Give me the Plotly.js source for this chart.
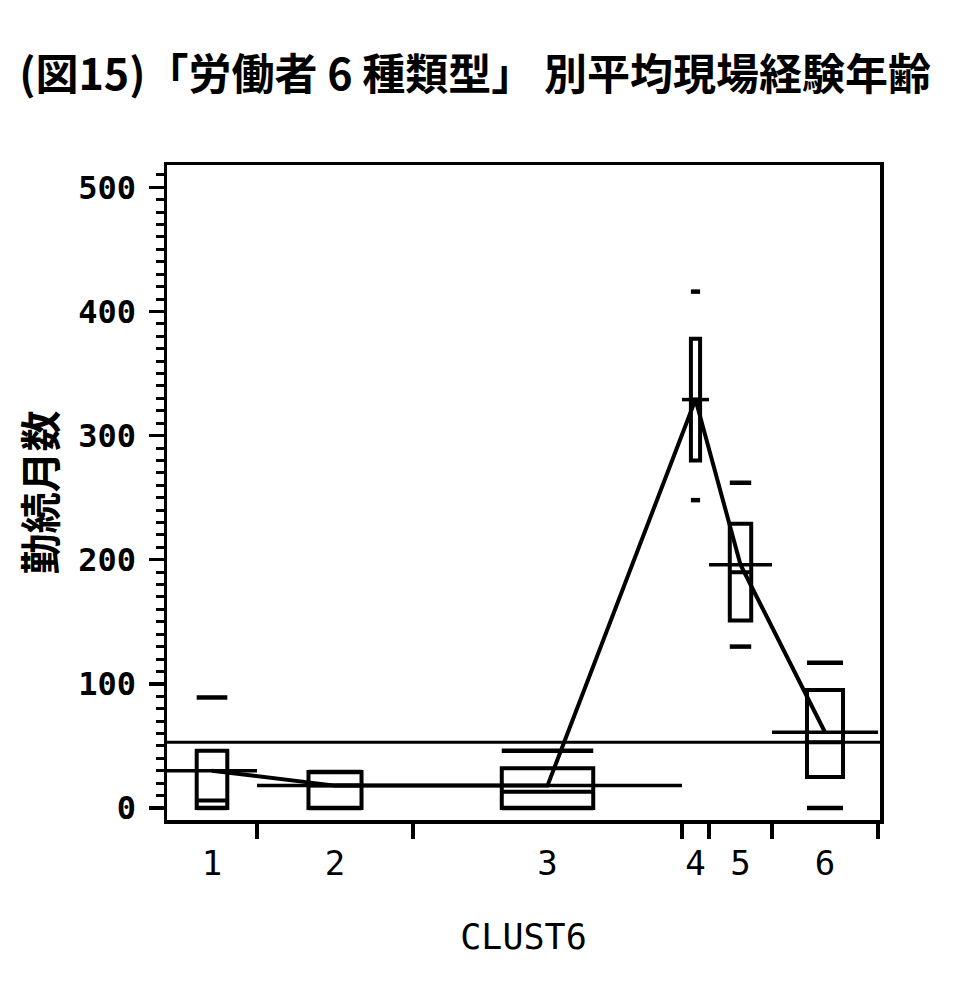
<!DOCTYPE html>
<html>
<head>
<meta charset="utf-8">
<script src="https://cdn.plot.ly/plotly-3.0.1.min.js"></script>
<style>
	html, body { margin: 0; padding: 0; background: #fff; }
	#plot { width: 956px; height: 983px; }
</style>
</head>
<body>
<div id="plot"></div>
<script>
// values (months of tenure per cluster)
const categories = ["1", "2", "3", "4", "5", "6"];
const groupSizes = [90, 156, 269, 27, 63, 106]; // relative widths along the x axis
const q1Values = [0, 0, 0, 280, 151, 25];
const medianValues = [6, 18, 13, 329, 190, 53];
const q3Values = [46, 29, 32, 378, 229, 95];
const lowMarks = [0, 0, 0, 248, 130, 0];
const highMarks = [89, 29, 46, 416, 262, 117];
const meanValues = [30, 18, 18, 329, 196, 61];
const overallMean = 53;
const yTicks = [0, 100, 200, 300, 400, 500];

const boxShare = 0.34;

const edges = [0];
groupSizes.forEach((w) => edges.push(edges[edges.length - 1] + w));
const total = edges[edges.length - 1];
const centers = groupSizes.map((w, i) => edges[i] + w / 2);
const xRange = [0, total + 2];

const black = "#000";

const boxTraces = categories.map((cat, i) => ({
	type: "box",
	name: cat,
	x: [centers[i]],
	q1: [q1Values[i]],
	median: [medianValues[i]],
	q3: [q3Values[i]],
	lowerfence: [q1Values[i]],
	upperfence: [q3Values[i]],
	width: groupSizes[i] * boxShare,
	whiskerwidth: 0,
	fillcolor: "rgba(0,0,0,0)",
	line: { color: black, width: 4 },
	boxpoints: false,
	hoverinfo: "skip",
	showlegend: false,
}));

function segments(lefts, rights, ys) {
	const x = [];
	const y = [];
	ys.forEach((v, i) => {
		x.push(lefts[i], rights[i], null);
		y.push(v, v, null);
	});
	return { x, y };
}

const halfBox = groupSizes.map((w) => (w * boxShare) / 2);
const markLefts = centers.map((c, i) => c - halfBox[i]);
const markRights = centers.map((c, i) => c + halfBox[i]);
const hi = segments(markLefts, markRights, highMarks);
const lo = segments(markLefts, markRights, lowMarks);
const meanSeg = segments(edges.slice(0, -1), edges.slice(1), meanValues);

const plotData = [
	...boxTraces,
	{
		type: "scatter",
		mode: "lines",
		x: hi.x.concat(lo.x),
		y: hi.y.concat(lo.y),
		line: { color: black, width: 4.5 },
		hoverinfo: "skip",
		showlegend: false,
	},
	{
		type: "scatter",
		mode: "lines",
		xaxis: "x2",
		x: meanSeg.x,
		y: meanSeg.y,
		line: { color: black, width: 3.5 },
		hoverinfo: "skip",
		showlegend: false,
	},
	{
		type: "scatter",
		mode: "lines",
		x: [0, total + 2],
		y: [overallMean, overallMean],
		line: { color: black, width: 3 },
		hoverinfo: "skip",
		showlegend: false,
	},
	{
		type: "scatter",
		mode: "lines",
		x: centers,
		y: meanValues,
		line: { color: black, width: 4 },
		hoverinfo: "skip",
		showlegend: false,
	},
];

const layout = {
	width: 956,
	height: 983,
	margin: { l: 167, r: 76, t: 165, b: 163 },
	paper_bgcolor: "#fff",
	plot_bgcolor: "#fff",
	boxmode: "overlay",
	showlegend: false,
	title: {
		text: "(図15)「労働者 6 種類型」 別平均現場経験年齢",
		font: { family: "Noto Sans CJK JP", size: 43, color: black, weight: "bold" },
		x: 0.497,
		xanchor: "center",
		xref: "container",
		y: 1 - 75 / 983,
		yref: "container",
		yanchor: "middle",
	},
	xaxis: {
		range: xRange,
		tickmode: "array",
		tickvals: edges.slice(1),
		showticklabels: false,
		ticks: "outside",
		ticklen: 15,
		tickwidth: 3.5,
		tickcolor: black,
		showline: true,
		linecolor: black,
		linewidth: 3.5,
		mirror: true,
		showgrid: false,
		zeroline: false,
	},
	xaxis2: {
		overlaying: "x",
		anchor: "y",
		side: "bottom",
		range: xRange,
		tickmode: "array",
		tickvals: centers,
		ticktext: categories,
		ticks: "",
		ticklabelstandoff: 20,
		tickfont: { family: "DejaVu Sans Mono", size: 34, color: black },
		showline: false,
		showgrid: false,
		zeroline: false,
		title: {
			text: "CLUST6",
			font: { family: "DejaVu Sans Mono", size: 35, color: black },
			standoff: 42,
		},
	},
	yaxis: {
		range: [-9.7, 518],
		tickmode: "array",
		tickvals: yTicks,
		ticks: "outside",
		ticklen: 15,
		tickwidth: 3.5,
		tickcolor: black,
		ticklabelstandoff: 6,
		minor: { dtick: 10, ticks: "outside", ticklen: 8, tickwidth: 3, tickcolor: black },
		tickfont: { family: "DejaVu Sans Mono", size: 32, color: black, weight: "bold" },
		showline: true,
		linecolor: black,
		linewidth: 3.5,
		mirror: true,
		showgrid: false,
		zeroline: false,
		title: {
			text: "勤続月数",
			font: { family: "Noto Sans CJK JP", size: 41, color: black, weight: "bold" },
			standoff: 10,
		},
	},
};

Plotly.newPlot("plot", plotData, layout, { displayModeBar: false, staticPlot: true });
</script>
</body>
</html>
